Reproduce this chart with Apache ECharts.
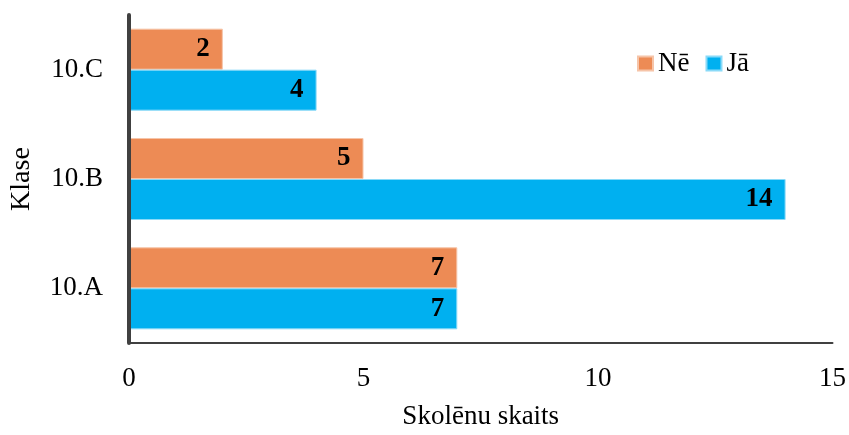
<!DOCTYPE html>
<html>
<head>
<meta charset="utf-8">
<script src="https://cdn.jsdelivr.net/npm/echarts@6/dist/echarts.min.js"></script>
<style>
html,body{margin:0;padding:0;background:#fff;}
#main{width:849px;height:435px;}
</style>
</head>
<body>
<div id="main"></div>
<script>
// klases un skaiti
var classes = ['10.A', '10.B', '10.C'];
var ne = [7, 5, 2];
var ja = [7, 14, 4];
var xTicks = [0, 5, 10, 15];

var font = '"Liberation Serif", "Times New Roman", serif';
var myChart = echarts.init(document.getElementById('main'));
var option = {
    animation: false,
    textStyle: {fontFamily: font},
    legend: {
        data: ['Nē', 'Jā'],
        left: 632,
        top: 45,
        itemWidth: 15,
        itemHeight: 14,
        itemGap: 16,
        icon: 'rect',
        textStyle: {fontFamily: font, fontSize: 27, color: '#000'}
    },
    grid: {left: 129, right: 15, top: 15, bottom: 87},
    xAxis: {
        type: 'value',
        min: 0,
        max: 15,
        interval: 5,
        name: 'Skolēnu skaits',
        nameLocation: 'middle',
        nameGap: 60,
        nameTextStyle: {fontFamily: font, fontSize: 27, color: '#000'},
        axisLine: {show: true, lineStyle: {color: '#404040', width: 2}},
        axisTick: {show: false},
        splitLine: {show: false},
        axisLabel: {
            margin: 22, fontSize: 27, color: '#000', fontFamily: font,
            customValues: xTicks
        }
    },
    yAxis: {
        type: 'category',
        data: classes,
        z: 10,
        name: 'Klase',
        nameLocation: 'middle',
        nameGap: 93,
        nameTextStyle: {fontFamily: font, fontSize: 28, color: '#000'},
        axisLine: {show: true, lineStyle: {color: '#404040', width: 4}},
        axisTick: {show: false},
        axisLabel: {margin: 26, fontSize: 27, color: '#000', fontFamily: font}
    },
    series: [
        {
            name: 'Nē',
            type: 'bar',
            data: ne,
            barGap: '0%',
            barCategoryGap: '25%',
            itemStyle: {color: '#ED8B55', borderColor: '#F6C4A8', borderWidth: 1},
            label: {
                show: true, position: 'insideRight', distance: 13,
                fontSize: 27, fontWeight: 'bold', color: '#000', fontFamily: font
            }
        },
        {
            name: 'Jā',
            type: 'bar',
            data: ja,
            itemStyle: {color: '#00B0F0', borderColor: '#8ADAF8', borderWidth: 1},
            label: {
                show: true, position: 'insideRight', distance: 13,
                fontSize: 27, fontWeight: 'bold', color: '#000', fontFamily: font
            }
        }
    ]
};
myChart.setOption(option);
</script>
</body>
</html>
